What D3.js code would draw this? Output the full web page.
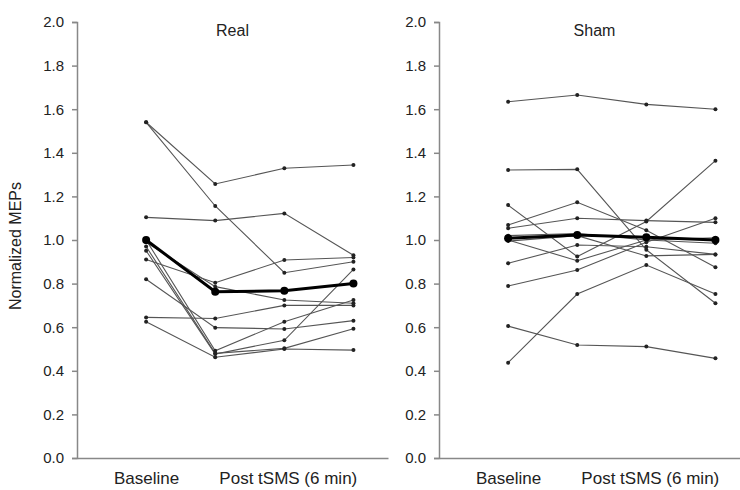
<!DOCTYPE html>
<html>
<head>
<meta charset="utf-8">
<script src="https://cdn.jsdelivr.net/npm/d3@7"></script>
<style>
  body { margin: 0; background: #fff; }
  text { font-family: "Liberation Sans", Arial, sans-serif; fill: #222; }
</style>
</head>
<body>
<svg id="chart" width="740" height="490"></svg>
<script>
// time points (index on the x scale)
const timePoints = [1, 2, 3, 4];
const xLabels = ["Baseline", "Post tSMS (6 min)"];
const xLabelPos = [1, 3.05];
const yTicks = [0, 0.2, 0.4, 0.6, 0.8, 1.0, 1.2, 1.4, 1.6, 1.8, 2.0];

// Real stimulation: one row per subject
const realSubjects = [
    [1.54, 1.257, 1.329, 1.344],
    [1.54, 1.156, 0.85, 0.90],
    [1.104, 1.089, 1.122, 0.93],
    [0.911, 0.804, 0.908, 0.92],
    [0.99, 0.786, 0.725, 0.71],
    [0.645, 0.64, 0.70, 0.70],
    [0.82, 0.598, 0.592, 0.63],
    [1.00, 0.492, 0.625, 0.725],
    [0.951, 0.477, 0.54, 0.865],
    [0.625, 0.462, 0.50, 0.495],
    [0.97, 0.48, 0.503, 0.593]
];
const realMean = [1.0, 0.763, 0.767, 0.80];

// Sham stimulation
const shamSubjects = [
    [1.634, 1.665, 1.622, 1.60],
    [1.321, 1.324, 0.955, 0.71],
    [0.437, 0.752, 0.885, 0.752],
    [0.605, 0.518, 0.511, 0.457],
    [0.789, 0.862, 0.99, 1.10],
    [1.069, 1.173, 1.045, 0.875],
    [1.054, 1.10, 1.089, 1.081],
    [1.16, 0.924, 1.085, 1.364],
    [0.893, 0.977, 0.969, 0.934],
    [1.0, 0.905, 1.0, 1.01],
    [0.995, 1.02, 0.927, 0.934],
    [1.02, 1.03, 1.0, 0.985]
];
const shamMean = [1.008, 1.023, 1.013, 1.0];

const svg = d3.select("#chart");
const plotTop = 22, plotBottom = 458, panelW = 311;
const font = "Liberation Sans, Arial, sans-serif";

const y = d3.scaleLinear().domain([0, 2]).range([plotBottom, plotTop]);

function drawPanel(left, title, subjects, mean) {
    const x = d3.scaleLinear().domain([0, 4.5]).range([left, left + panelW]);
    const g = svg.append("g");

    const line = d3.line()
        .x((d, i) => x(timePoints[i]))
        .y(d => y(d));

    // y axis
    const yAxis = g.append("g")
        .attr("transform", `translate(${left},0)`)
        .call(d3.axisLeft(y).tickValues(yTicks).tickFormat(d3.format(".1f")).tickSize(5).tickPadding(8));
    yAxis.select(".domain").attr("stroke", "#888").attr("stroke-width", 1.5);
    yAxis.selectAll(".tick line").attr("stroke", "#888").attr("stroke-width", 1.5);
    yAxis.selectAll(".tick text").attr("font-size", "15px").attr("fill", "#2a2a2a")
        .attr("font-family", font);

    // x axis: plain line, text labels only
    const xAxis = g.append("g")
        .attr("transform", `translate(0,${plotBottom})`)
        .call(d3.axisBottom(x).tickValues(xLabelPos).tickSize(0).tickPadding(14)
            .tickFormat((d, i) => xLabels[i]));
    xAxis.select(".domain").attr("stroke", "#888").attr("stroke-width", 1.5);
    xAxis.selectAll(".tick text").attr("font-size", "17px").attr("fill", "#2a2a2a")
        .attr("font-family", font);

    g.append("text")
        .attr("x", left + panelW / 2)
        .attr("y", 36)
        .attr("text-anchor", "middle")
        .attr("font-size", "16px")
        .text(title);

    // subjects
    g.selectAll(".subj")
        .data(subjects)
        .enter()
        .append("path")
        .attr("d", line)
        .attr("fill", "none")
        .attr("stroke", "#555")
        .attr("stroke-width", 1.1);

    subjects.forEach(s => {
        g.selectAll(null)
            .data(s)
            .enter()
            .append("circle")
            .attr("cx", (d, i) => x(timePoints[i]))
            .attr("cy", d => y(d))
            .attr("r", 2)
            .attr("fill", "#222");
    });

    // group mean
    g.append("path")
        .attr("d", line(mean))
        .attr("fill", "none")
        .attr("stroke", "#000")
        .attr("stroke-width", 3);
    g.selectAll(null)
        .data(mean)
        .enter()
        .append("circle")
        .attr("cx", (d, i) => x(timePoints[i]))
        .attr("cy", d => y(d))
        .attr("r", 4)
        .attr("fill", "#000");
}

drawPanel(77, "Real", realSubjects, realMean);
drawPanel(439, "Sham", shamSubjects, shamMean);

svg.append("text")
    .attr("transform", "translate(21,246) rotate(-90)")
    .attr("text-anchor", "middle")
    .attr("font-size", "16px")
    .text("Normalized MEPs");
</script>
</body>
</html>
